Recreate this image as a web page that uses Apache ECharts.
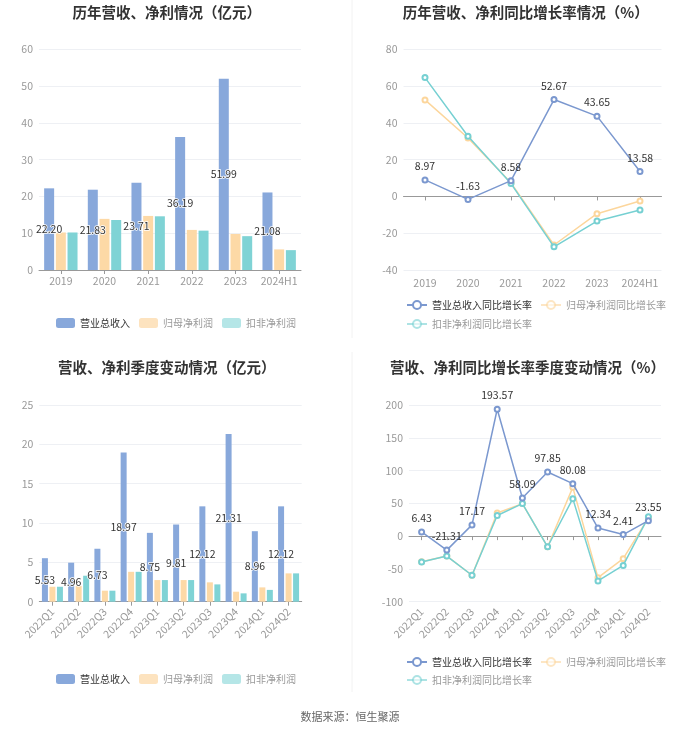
<!DOCTYPE html>
<html>
<head>
<meta charset="utf-8">
<script src="https://cdn.jsdelivr.net/npm/echarts@6/dist/echarts.min.js"></script>
<style>
html,body{margin:0;padding:0;background:#fff;}
#main{width:700px;height:734px;}
</style>
</head>
<body>
<div id="main"></div>
<script>
// ---- data ----
var years = ['2019', '2020', '2021', '2022', '2023', '2024H1'];
var annualRevenue = [22.20, 21.83, 23.71, 36.19, 51.99, 21.08];
var annualNetProfit = [10.2, 13.9, 14.7, 10.9, 9.8, 5.6];
var annualDeductedProfit = [10.2, 13.6, 14.6, 10.7, 9.2, 5.4];

var annualRevenueGrowth = [8.97, -1.63, 8.58, 52.67, 43.65, 13.58];
var annualNetProfitGrowth = [52.5, 31.8, 7.4, -26.4, -9.4, -2.5];
var annualDeductedGrowth = [64.6, 32.7, 7.0, -27.4, -13.4, -7.4];

var quarters = ['2022Q1', '2022Q2', '2022Q3', '2022Q4', '2023Q1', '2023Q2', '2023Q3', '2023Q4', '2024Q1', '2024Q2'];
var qRevenue = [5.53, 4.96, 6.73, 18.97, 8.75, 9.81, 12.12, 21.31, 8.96, 12.12];
var qNetProfit = [1.9, 2.0, 1.4, 3.8, 2.75, 2.75, 2.46, 1.27, 1.82, 3.6];
var qDeductedProfit = [1.9, 3.3, 1.4, 3.8, 2.75, 2.75, 2.2, 1.06, 1.5, 3.6];

var qRevenueGrowth = [6.43, -21.31, 17.17, 193.57, 58.09, 97.85, 80.08, 12.34, 2.41, 23.55];
var qNetProfitGrowth = [-39.0, -30.4, -59.7, 35.4, 49.6, -16.2, 74.4, -63.3, -34.4, 28.0];
var qDeductedGrowth = [-39.5, -30.4, -59.7, 31.4, 49.6, -16.2, 57.2, -68.4, -44.6, 29.4];

var yTicksAnnual = {min: 0, max: 60, interval: 10};
var yTicksAnnualGrowth = {min: -40, max: 80, interval: 20};
var yTicksQuarter = {min: 0, max: 25, interval: 5};
var yTicksQuarterGrowth = {min: -100, max: 200, interval: 50};

var titles = ['历年营收、净利情况（亿元）', '历年营收、净利同比增长率情况（%）', '营收、净利季度变动情况（亿元）', '营收、净利同比增长率季度变动情况（%）'];
var barNames = ['营业总收入', '归母净利润', '扣非净利润'];
var lineNames = ['营业总收入同比增长率', '归母净利润同比增长率', '扣非净利润同比增长率'];
var sourceText = '数据来源：恒生聚源';

// ---- styles ----
var FONT = '"Noto Sans CJK SC", "Noto Sans", sans-serif';
var C_REV = '#88a8db', C_NET = '#fdd9a6', C_DED = '#7fd3d5';
var C_REV_L = '#7b98cf', C_NET_L = '#fcd69c', C_DED_L = '#76d0d2';
var grids = [
  {left: 39, top: 49.3, width: 262, height: 220.7},
  {left: 403.5, top: 49.3, width: 258, height: 220.7},
  {left: 39.3, top: 405, width: 262.4, height: 196.7},
  {left: 409, top: 405, width: 252, height: 196.7}
];

function yAxis(gi, t) {
  return {
    type: 'value', gridIndex: gi, min: t.min, max: t.max, interval: t.interval,
    axisLine: {show: false}, axisTick: {show: false},
    axisLabel: {color: '#999', fontSize: 10.5, margin: 6, fontFamily: FONT},
    splitLine: {lineStyle: {color: '#eef0f4', width: 1}}
  };
}
function xAxisMain(gi, cats, rotate, showLabel) {
  return {
    type: 'category', gridIndex: gi, data: cats,
    axisLine: {show: true, onZero: true, lineStyle: {color: '#999'}},
    axisTick: {show: true, alignWithLabel: true, length: 4, lineStyle: {color: '#999'}},
    axisLabel: {show: showLabel, color: '#999', fontSize: 10.5, margin: 6, rotate: rotate, fontFamily: FONT, interval: 0}
  };
}
function xAxisLabels(gi, cats, rotate) {
  return {
    type: 'category', gridIndex: gi, data: cats, position: 'bottom',
    axisLine: {show: false, onZero: false}, axisTick: {show: false},
    axisLabel: {color: '#999', fontSize: 10.5, margin: 8, rotate: rotate, fontFamily: FONT, interval: 0}
  };
}

var barLabel = {
  show: true, position: 'inside', color: '#333', fontSize: 10.5, fontFamily: FONT,
  textBorderColor: '#fff', textBorderWidth: 1.5,
  formatter: function (p) { return p.value.toFixed(2); }
};
var lineLabel = {
  show: true, position: 'top', distance: 5, color: '#333', fontSize: 10.5, fontFamily: FONT,
  formatter: function (p) { return p.value.toFixed(2); }
};

function bars(xi, yi, rev, net, ded, bw, gap) {
  return [
    {name: barNames[0], type: 'bar', xAxisIndex: xi, yAxisIndex: yi, data: rev, barWidth: bw, barGap: gap,
      itemStyle: {color: C_REV}, label: barLabel, z: 2},
    {name: barNames[1], type: 'bar', xAxisIndex: xi, yAxisIndex: yi, data: net, barWidth: bw, barGap: gap,
      itemStyle: {color: C_NET}},
    {name: barNames[2], type: 'bar', xAxisIndex: xi, yAxisIndex: yi, data: ded, barWidth: bw, barGap: gap,
      itemStyle: {color: C_DED}}
  ];
}
function lines(xi, yi, rev, net, ded) {
  var common = {type: 'line', xAxisIndex: xi, yAxisIndex: yi, symbol: 'emptyCircle', symbolSize: 5};
  return [
    Object.assign({name: lineNames[1], data: net, lineStyle: {color: C_NET_L, width: 1.5}, itemStyle: {color: C_NET_L}, z: 2}, common),
    Object.assign({name: lineNames[2], data: ded, lineStyle: {color: C_DED_L, width: 1.5}, itemStyle: {color: C_DED_L}, z: 3}, common),
    Object.assign({name: lineNames[0], data: rev, lineStyle: {color: C_REV_L, width: 1.5}, itemStyle: {color: C_REV_L}, label: lineLabel, z: 4}, common)
  ];
}

function barLegend(top) {
  return {
    left: 51, top: top, itemWidth: 19, itemHeight: 10, itemGap: 9, icon: 'roundRect',
    textStyle: {fontSize: 10, color: '#333', fontFamily: FONT},
    data: [
      {name: barNames[0]},
      {name: barNames[1], itemStyle: {color: '#fde3bf'}, textStyle: {color: '#999'}},
      {name: barNames[2], itemStyle: {color: '#b5e6e7'}, textStyle: {color: '#999'}}
    ]
  };
}
function lineLegend(top1, top2) {
  var base = {left: 401, itemWidth: 20, itemHeight: 10, itemGap: 8,
    textStyle: {fontSize: 10, color: '#333', fontFamily: FONT}};
  return [
    Object.assign({top: top1, data: [
      {name: lineNames[0]},
      {name: lineNames[1], textStyle: {color: '#999'}, itemStyle: {opacity: 0.6}, lineStyle: {opacity: 0.6}}
    ]}, base),
    Object.assign({top: top2, data: [
      {name: lineNames[2], textStyle: {color: '#999'}, itemStyle: {opacity: 0.6}, lineStyle: {opacity: 0.6}}
    ]}, base)
  ];
}

var titlePos = [[166.7, 12.5], [525.8, 12.5], [166.7, 367], [527.5, 367]];
var graphics = titles.map(function (t, i) {
  return {type: 'text', x: titlePos[i][0], y: titlePos[i][1],
    style: {text: t, fill: '#333', font: 'bold 14.5px ' + FONT, textAlign: 'center', textVerticalAlign: 'middle'}};
});
graphics.push({type: 'text', x: 350, y: 717,
  style: {text: sourceText, fill: '#666', font: '11px ' + FONT, textAlign: 'center', textVerticalAlign: 'middle'}});
graphics.push({type: 'line', shape: {x1: 352, y1: 0, x2: 352, y2: 338}, style: {stroke: '#f2f2f2', lineWidth: 1}});
graphics.push({type: 'line', shape: {x1: 352, y1: 352, x2: 352, y2: 692}, style: {stroke: '#f2f2f2', lineWidth: 1}});

var option = {
  backgroundColor: '#fff',
  animation: false,
  textStyle: {fontFamily: FONT},
  grid: grids,
  xAxis: [
    xAxisMain(0, years, 0, true),
    xAxisMain(1, years, 0, false), xAxisLabels(1, years, 0),
    xAxisMain(2, quarters, 45, true),
    xAxisMain(3, quarters, 45, false), xAxisLabels(3, quarters, 45)
  ],
  yAxis: [
    yAxis(0, yTicksAnnual), yAxis(1, yTicksAnnualGrowth),
    yAxis(2, yTicksQuarter), yAxis(3, yTicksQuarterGrowth)
  ],
  legend: [barLegend(313), barLegend(669)].concat(lineLegend(295, 314)).concat(lineLegend(652, 670)),
  series: [].concat(
    bars(0, 0, annualRevenue, annualNetProfit, annualDeductedProfit, 10, '17%'),
    lines(1, 1, annualRevenueGrowth, annualNetProfitGrowth, annualDeductedGrowth),
    bars(3, 2, qRevenue, qNetProfit, qDeductedProfit, 6, '25%'),
    lines(4, 3, qRevenueGrowth, qNetProfitGrowth, qDeductedGrowth)
  ),
  graphic: graphics
};
option.xAxis[3].axisLabel.margin = 8;

var chart = echarts.init(document.getElementById('main'), null, {renderer: 'canvas'});
chart.setOption(option);
</script>
</body>
</html>
